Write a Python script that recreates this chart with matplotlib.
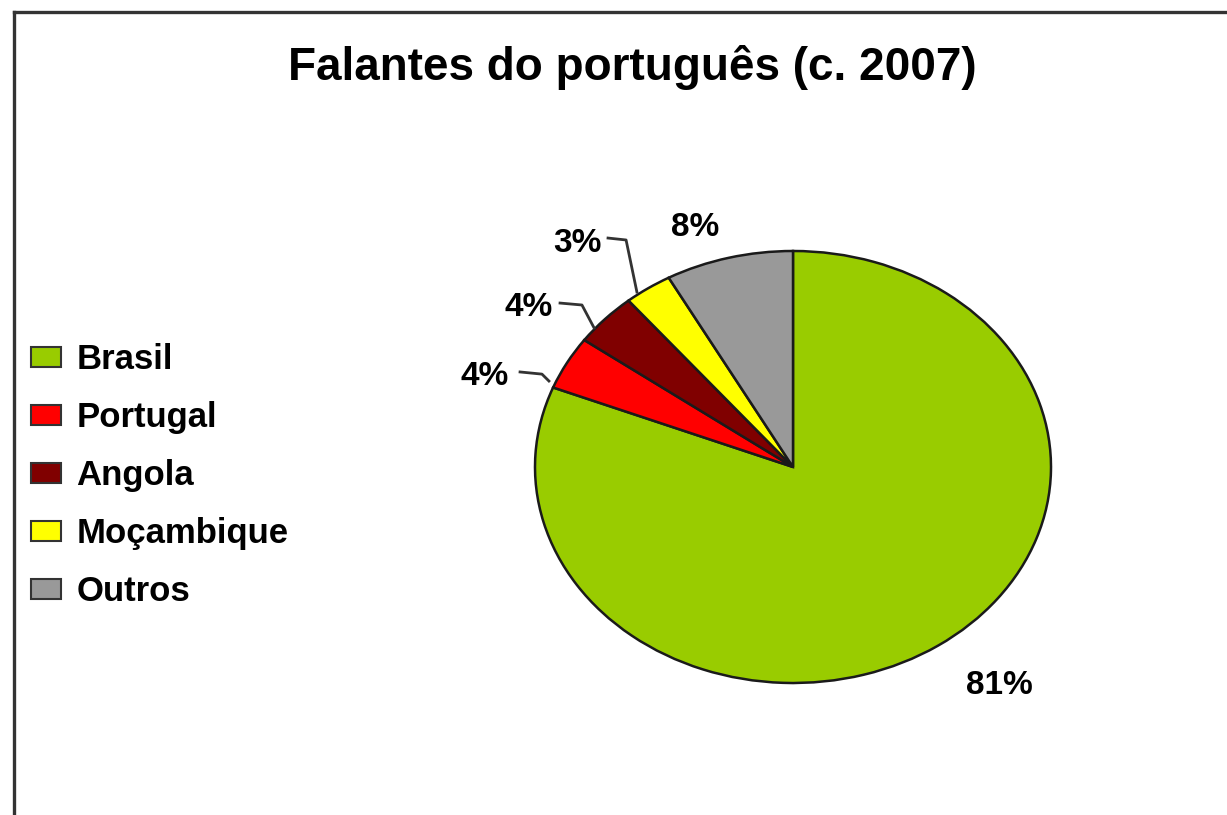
import matplotlib.pyplot as plt
from matplotlib.patches import Patch
from matplotlib.lines import Line2D

# dados
paises = ['Brasil', 'Portugal', 'Angola', 'Moçambique', 'Outros']
percentagens = [81, 4, 4, 3, 8]
cores = ['#99cc00', '#ff0000', '#800000', '#ffff00', '#999999']
rotulos = ['81%', '4%', '4%', '3%', '8%']

plt.rcParams['font.family'] = ['Liberation Sans', 'DejaVu Sans']

W, H = 1227, 815
fig = plt.figure(figsize=(W / 100, H / 100), dpi=100)
fig.patch.set_facecolor('white')

# moldura (so topo e esquerda visiveis)
fig.add_artist(Line2D([14 / W, 14 / W], [0, 1 - 12 / H], color='#333333', lw=2.4))
fig.add_artist(Line2D([14 / W, 1], [1 - 12 / H, 1 - 12 / H], color='#333333', lw=2.4))

fig.text(632 / W, 1 - 67 / H, 'Falantes do português (c. 2007)',
         ha='center', va='center', fontsize=33, fontweight='bold')

# pizza eliptica
cx, cy, rx, ry = 793, 467, 258, 216
ax = fig.add_axes([(cx - rx) / W, (H - cy - ry) / H, 2 * rx / W, 2 * ry / H])
wedges, _ = ax.pie(percentagens, colors=cores, startangle=90, counterclock=False,
                   radius=1, wedgeprops=dict(edgecolor='#1a1a1a', linewidth=1.8))
ax.set_aspect('auto')
ax.set_xlim(-1, 1)
ax.set_ylim(-1, 1)
ax.axis('off')

# rotulos (posicao do texto, linha de chamada)
pos_texto = [(0.80, -1.01), (-1.10, 0.417), (-0.93, 0.74), (-0.74, 1.037), (-0.38, 1.11)]
linhas = [None,
          [(-1.058, 0.44), (-0.973, 0.43), (-0.946, 0.398)],
          [(-0.903, 0.759), (-0.818, 0.75), (-0.771, 0.644)],
          [(-0.717, 1.06), (-0.647, 1.051), (-0.605, 0.81)],
          None]
for rot, (tx, ty), ln in zip(rotulos, pos_texto, linhas):
    ha = 'center' if ln is None else 'right'
    ax.text(tx, ty, rot, ha=ha, va='center', fontsize=24, fontweight='bold',
            clip_on=False)
    if ln is not None:
        xs, ys = zip(*ln)
        ax.plot(xs, ys, color='#333333', lw=2, clip_on=False)

# legenda
handles = [Patch(facecolor=c, edgecolor='#333333', linewidth=1.5) for c in cores]
fig.legend(handles, paises, loc='upper left', bbox_to_anchor=(14 / W, 1 - 326 / H),
           frameon=False, prop=dict(size=25, weight='bold'), handlelength=0.85,
           handleheight=0.5, handletextpad=0.45, labelspacing=0.72, borderpad=0)

fig.savefig('out.png', dpi=100)
